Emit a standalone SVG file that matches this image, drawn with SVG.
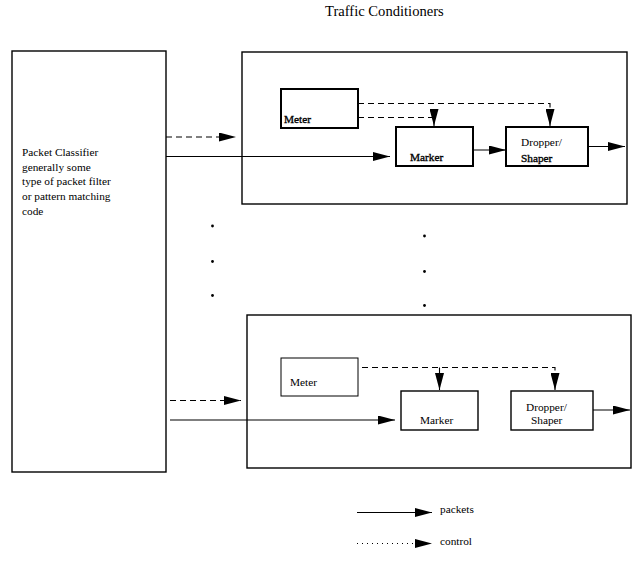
<svg xmlns="http://www.w3.org/2000/svg" width="633" height="562" viewBox="0 0 633 562" font-family="'Liberation Serif', 'DejaVu Serif', 'Times New Roman', serif">
  <style>
    text { font-family: "Liberation Serif", "DejaVu Serif", "Times New Roman", serif; font-size: 11.3px; fill: #000; }
    .title { font-size: 14.6px; }
    .box { fill: #fff; stroke: #000; stroke-width: 1.4; }
    .heavy { stroke-width: 2; }
    .thin { stroke-width: 1; }
    .dark { stroke: #000; stroke-width: 0.35; }
    .pkt { fill: none; stroke: #000; stroke-width: 1.1; marker-end: url(#head); }
    .ctl { fill: none; stroke: #000; stroke-width: 1.1; stroke-dasharray: 6 4; marker-end: url(#head); }
    .stem { fill: none; stroke: #000; stroke-width: 1.1; marker-end: url(#head); }
    .dot { fill: none; stroke: #000; stroke-width: 1; stroke-dasharray: 1 4; marker-end: url(#head); }
    .ell { fill: #000; }
  </style>
  <defs>
    <marker id="head" markerWidth="17" markerHeight="9" refX="17" refY="4.5" orient="auto" markerUnits="userSpaceOnUse">
      <path d="M0,0 L17,4.5 L0,9 Z" fill="#000"/>
    </marker>
  </defs>

  <rect width="633" height="562" fill="#fff"/>

  <text class="title" x="325" y="16">Traffic Conditioners</text>

  <!-- classifier -->
  <g id="classifier">
    <rect class="box" x="12" y="51" width="154" height="421"/>
    <text x="22" y="156">Packet Classifier</text>
    <text x="22" y="170.7">generally some</text>
    <text x="22" y="185.3">type of packet filter</text>
    <text x="22" y="200">or pattern matching</text>
    <text x="22" y="214.7">code</text>
  </g>

  <!-- first traffic conditioner -->
  <g id="tc1">
    <rect class="box" x="242" y="52" width="385" height="152"/>
  </g>
  <g id="meter1">
    <rect class="box heavy" x="281" y="89" width="77" height="39"/>
    <text class="dark" x="284" y="123">Meter</text>
  </g>
  <g id="marker1">
    <rect class="box heavy" x="396" y="127" width="77" height="39"/>
    <text class="dark" x="410" y="161">Marker</text>
  </g>
  <g id="dropper1">
    <rect class="box heavy" x="506" y="127" width="82" height="39"/>
    <text x="521" y="146">Dropper/</text>
    <text class="dark" x="521" y="162">Shaper</text>
  </g>

  <!-- second traffic conditioner -->
  <g id="tc2">
    <rect class="box" x="247" y="315" width="384" height="153"/>
  </g>
  <g id="meter2">
    <rect class="box thin" x="281" y="358" width="77" height="38"/>
    <text x="290" y="386">Meter</text>
  </g>
  <g id="marker2">
    <rect class="box" x="401" y="391" width="77" height="39"/>
    <text x="420" y="424">Marker</text>
  </g>
  <g id="dropper2">
    <rect class="box" x="511" y="391" width="82" height="39"/>
    <text x="526" y="411">Dropper/</text>
    <text x="531" y="424">Shaper</text>
  </g>

  <!-- ellipsis dots between the conditioners -->
  <g id="ellipsis">
    <circle class="ell" cx="212.5" cy="226" r="1.4"/>
    <circle class="ell" cx="212.5" cy="261.5" r="1.4"/>
    <circle class="ell" cx="212.5" cy="295.5" r="1.4"/>
    <circle class="ell" cx="424.5" cy="236" r="1.4"/>
    <circle class="ell" cx="424.5" cy="271.5" r="1.4"/>
    <circle class="ell" cx="424.5" cy="305.5" r="1.4"/>
  </g>

  <!-- connectors -->
  <g id="connectors">
    <!-- conditioner 1 -->
    <path class="ctl" d="M166,137 H236"/>
    <path class="pkt" d="M166,156.5 H390"/>
    <path class="ctl" d="M358,103.5 H550 V126"/>
    <path class="ctl" d="M358,117.5 H434 V126"/>
    <path class="pkt" d="M473,150 H506"/>
    <path class="pkt" d="M588,146.5 H625"/>
    <!-- conditioner 2 -->
    <path class="ctl" d="M170,400.5 H241"/>
    <path class="pkt" d="M170,420 H395"/>
    <path class="ctl" d="M362,367.5 H555 V390"/>
    <path class="stem" d="M439.5,367.5 V390"/>
    <path class="pkt" d="M593,410 H630"/>
  </g>

  <!-- legend -->
  <g id="legend">
    <path class="pkt" d="M357,512.5 H432"/>
    <text x="440" y="513">packets</text>
    <path class="dot" d="M357,543.5 H432"/>
    <text x="440" y="545">control</text>
  </g>
</svg>
